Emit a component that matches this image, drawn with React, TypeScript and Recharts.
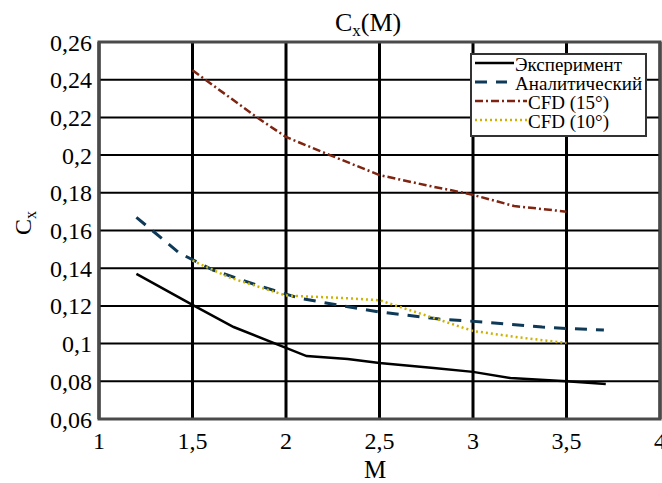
import React from 'react';
import {
    LineChart, Line, XAxis, YAxis, CartesianGrid, Legend, ReferenceArea,
} from 'recharts';

// M ticks and Cx ticks
const mTicks = [1, 1.5, 2, 2.5, 3, 3.5, 4];
const cxTicks = [0.06, 0.08, 0.1, 0.12, 0.14, 0.16, 0.18, 0.2, 0.22, 0.24, 0.26];

// Эксперимент
const expM = [1.2, 1.5, 1.72, 2.0, 2.11, 2.33, 2.5, 2.79, 3.0, 3.2, 3.5, 3.71];
const expCx = [0.137, 0.1205, 0.1088, 0.0977, 0.0934, 0.0918, 0.0897, 0.087, 0.085, 0.0817, 0.080, 0.0786];

// Аналитический
const anM = [1.2, 1.43, 1.61, 1.845, 2.075, 2.34, 2.5, 2.82, 3.05, 3.37, 3.5, 3.7];
const anCx = [0.167, 0.148, 0.139, 0.131, 0.124, 0.1194, 0.1168, 0.113, 0.1115, 0.1088, 0.108, 0.1072];

// CFD (15°)
const cfd15M = [1.5, 1.845, 2.0, 2.235, 2.5, 2.75, 2.98, 3.22, 3.5];
const cfd15Cx = [0.245, 0.220, 0.2096, 0.200, 0.1894, 0.184, 0.1794, 0.173, 0.170];

// CFD (10°)
const cfd10M = [1.5, 1.7, 2.0, 2.34, 2.5, 2.79, 3.0, 3.23, 3.5];
const cfd10Cx = [0.144, 0.135, 0.1255, 0.124, 0.123, 0.1136, 0.1067, 0.1035, 0.1003];

const legendNames = ['Эксперимент', 'Аналитический', 'CFD (15°)', 'CFD (10°)'];

const serif = '"Liberation Serif", "Times New Roman", serif';

const toRows = (ms: number[], cs: number[]) => ms.map((m, i) => ({m, cx: cs[i]}));
const fmt = (v: number) => String(v).replace('.', ',');

const series = [
    {name: legendNames[0], data: toRows(expM, expCx), color: '#000000', dash: undefined, width: 2.5, lineEnd: 44, textX: 45},
    {name: legendNames[1], data: toRows(anM, anCx), color: '#0e3a58', dash: '12 9', width: 3, lineEnd: 37, textX: 45},
    {name: legendNames[2], data: toRows(cfd15M, cfd15Cx), color: '#7e2410', dash: '8 3 2 3', width: 2.5, lineEnd: 57, textX: 58},
    {name: legendNames[3], data: toRows(cfd10M, cfd10Cx), color: '#cdb300', dash: '2 3', width: 2.5, lineEnd: 57, textX: 58},
];

function LegendBox() {
    const rowY = [10, 29, 48, 67];
    return (
        <svg width={177} height={84} style={{display: 'block'}}>
            <rect x={1} y={1} width={175} height={82} fill="#fff" stroke="#333" strokeWidth={2}/>
            {series.map((s, i) => (
                <g key={s.name}>
                    <line x1={5} x2={s.lineEnd} y1={rowY[i]} y2={rowY[i]} stroke={s.color}
                          strokeWidth={s.width} strokeDasharray={s.dash}/>
                    <text x={s.textX} y={rowY[i] + 8} fontFamily={serif} fontSize={19} fill="#000">{s.name}</text>
                </g>
            ))}
        </svg>
    );
}

export default function App() {
    const tickStyle = {fontFamily: serif, fontSize: 24, fill: '#000'};
    return (
        <div style={{position: 'absolute', left: 0, top: 0, background: '#fff'}}>
            <LineChart width={662} height={483} margin={{top: 42, right: 2, left: 0, bottom: 0}}>
                <CartesianGrid vertical={false} stroke="#000" strokeWidth={2}/>
                <CartesianGrid horizontal={false} stroke="#000" strokeWidth={3}/>
                <XAxis type="number" dataKey="m" domain={[1, 4]} ticks={mTicks} interval={0}
                       tickFormatter={fmt} tickLine={false} axisLine={false} height={64}
                       tickMargin={7} tick={tickStyle} allowDataOverflow/>
                <YAxis type="number" domain={[0.06, 0.26]} ticks={cxTicks} interval={0}
                       tickFormatter={fmt} tickLine={false} axisLine={false} width={99}
                       tickMargin={1} tick={tickStyle} allowDataOverflow/>
                <YAxis yAxisId="r" orientation="right" type="number" domain={[0.06, 0.26]} ticks={cxTicks}
                       width={0} mirror tick={false} axisLine={false} tickSize={6}
                       tickLine={{stroke: '#000', strokeWidth: 2}}/>
                <ReferenceArea x1={1} x2={4} y1={0.06} y2={0.26} fill="none" stroke="#4a4a4a"
                               strokeWidth={3} ifOverflow="visible"/>
                {series.map(s => (
                    <Line key={s.name} data={s.data} dataKey="cx" name={s.name} type="linear"
                          stroke={s.color} strokeWidth={s.width} strokeDasharray={s.dash}
                          dot={false} activeDot={false} isAnimationActive={false}/>
                ))}
                <Legend layout="horizontal" verticalAlign="middle" align="center"
                        wrapperStyle={{left: 470, top: 53, width: 177, height: 84}}
                        content={() => <LegendBox/>}/>
                <text x={335} y={31} fontFamily={serif} fontSize={26} fill="#000">
                    C<tspan fontSize={17} dy={5}>x</tspan><tspan dy={-5}>(M)</tspan>
                </text>
                <text x={31} y={223} transform="rotate(-90 31 223)" textAnchor="middle"
                      fontFamily={serif} fontSize={24} fill="#000">
                    C<tspan fontSize={16} dy={5}>x</tspan>
                </text>
                <text x={375} y={478} textAnchor="middle" fontFamily={serif} fontSize={25} fill="#000">M</text>
            </LineChart>
        </div>
    );
}
